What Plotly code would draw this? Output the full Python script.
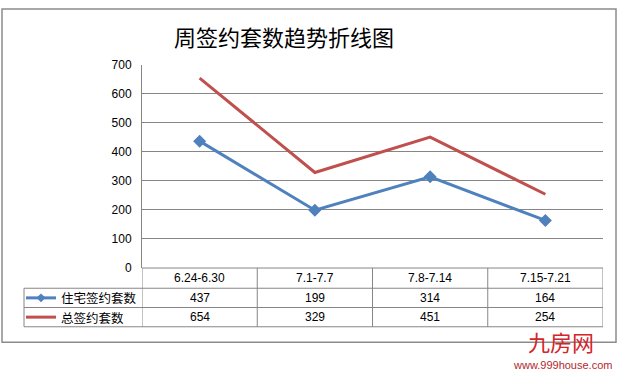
import plotly.graph_objects as go

categories = ["6.24-6.30", "7.1-7.7", "7.8-7.14", "7.15-7.21"]
residential = [437, 199, 314, 164]
total = [654, 329, 451, 254]
series_names = ["住宅签约套数", "总签约套数"]
title_text = "周签约套数趋势折线图"

W, H = 617, 380
def px(x): return x / W
def py(y): return 1 - y / H

BLUE = "#4F81BD"
RED = "#C0504D"
GRID = "#868686"
NUMFONT = "Liberation Sans"
CJK = "Noto Sans CJK SC"

fig = go.Figure()
fig.add_trace(go.Scatter(x=categories, y=residential, mode="lines+markers",
                         line=dict(color=BLUE, width=3),
                         marker=dict(symbol="diamond", size=10, color=BLUE),
                         name=series_names[0], showlegend=False))
fig.add_trace(go.Scatter(x=categories, y=total, mode="lines",
                         line=dict(color=RED, width=3),
                         name=series_names[1], showlegend=False))

plot_l, plot_r, plot_t, plot_b = 142, 603, 60, 271
fig.update_layout(
    width=W, height=H, margin=dict(l=0, r=0, t=0, b=0),
    paper_bgcolor="white", plot_bgcolor="white",
    xaxis=dict(domain=[px(plot_l), px(plot_r)], type="category",
               range=[-0.5, len(categories) - 0.5],
               showticklabels=False, showgrid=False, zeroline=False,
               showline=False, ticks=""),
    yaxis=dict(domain=[py(plot_b), py(plot_t)], range=[0, 700], dtick=100,
               showgrid=True, gridcolor=GRID, gridwidth=1, zeroline=False,
               showline=True, linecolor=GRID, linewidth=1, ticks="",
               ticklabelstandoff=7,
               tickfont=dict(family=NUMFONT, size=12, color="black")),
    font=dict(family=NUMFONT, size=12, color="black"),
)

shapes = []
def line(x0, y0, x1, y1, xref="paper", color=GRID, width=1):
    shapes.append(dict(type="line", xref=xref, yref="paper",
                       x0=x0, y0=py(y0), x1=x1, y1=py(y1),
                       line=dict(color=color, width=width)))

# outer chart border
shapes.append(dict(type="rect", xref="paper", yref="paper",
                   x0=px(2), y0=py(348), x1=px(616), y1=py(2),
                   line=dict(color="#8c8c8c", width=1.5)))

# table
row_h, row1, row2, row3 = 271, 292, 312, 332
line(px(plot_l), row_h, px(plot_r), row_h)
for yy in (row1, row2, row3):
    line(px(24), yy, px(plot_r), yy)
line(px(24), row1, px(24), row3)
for i in range(len(categories) + 1):
    line(i - 0.5, row_h, i - 0.5, row3, xref="x")

# legend keys inside table
line(px(26), 302, px(56), 302, color=BLUE, width=3)
line(px(26), 322, px(56), 322, color=RED, width=3)
shapes.append(dict(type="path", xref="paper", yref="paper",
                   path=f"M {px(41)},{py(297.5)} L {px(45.5)},{py(302)} L {px(41)},{py(306.5)} L {px(36.5)},{py(302)} Z",
                   fillcolor=BLUE, line=dict(color=BLUE, width=0)))
fig.update_layout(shapes=shapes)

ann = []
ann.append(dict(text=title_text, x=px(284), y=py(30), xref="paper", yref="paper",
                showarrow=False, font=dict(family=CJK, size=22, color="black"),
                xanchor="center", yanchor="middle"))
for i, c in enumerate(categories):
    ann.append(dict(text=c, x=i, y=py(281.5), xref="x", yref="paper", showarrow=False,
                    font=dict(family=NUMFONT, size=12), xanchor="center", yanchor="middle"))
    ann.append(dict(text=str(residential[i]), x=i, y=py(302), xref="x", yref="paper",
                    showarrow=False, font=dict(family=NUMFONT, size=12),
                    xanchor="center", yanchor="middle"))
    ann.append(dict(text=str(total[i]), x=i, y=py(322), xref="x", yref="paper",
                    showarrow=False, font=dict(family=NUMFONT, size=12),
                    xanchor="center", yanchor="middle"))
ann.append(dict(text=series_names[0], x=px(59), y=py(302), xref="paper", yref="paper",
                showarrow=False, font=dict(family=CJK, size=12.5), xanchor="left", yanchor="middle"))
ann.append(dict(text=series_names[1], x=px(59), y=py(322), xref="paper", yref="paper",
                showarrow=False, font=dict(family=CJK, size=12.5), xanchor="left", yanchor="middle"))
# watermark
ann.append(dict(text="九房网", x=px(561), y=py(347), xref="paper", yref="paper",
                showarrow=False, font=dict(family=CJK, size=22, color="#d3262c"),
                xanchor="center", yanchor="middle", borderpad=0))
ann.append(dict(text="www.999house.com", x=px(562), y=py(371.5), xref="paper", yref="paper",
                showarrow=False, font=dict(family=NUMFONT, size=11, color="#b22a2e"),
                xanchor="center", yanchor="middle", borderpad=0))
fig.update_layout(annotations=ann)

fig.write_html("out.html")
